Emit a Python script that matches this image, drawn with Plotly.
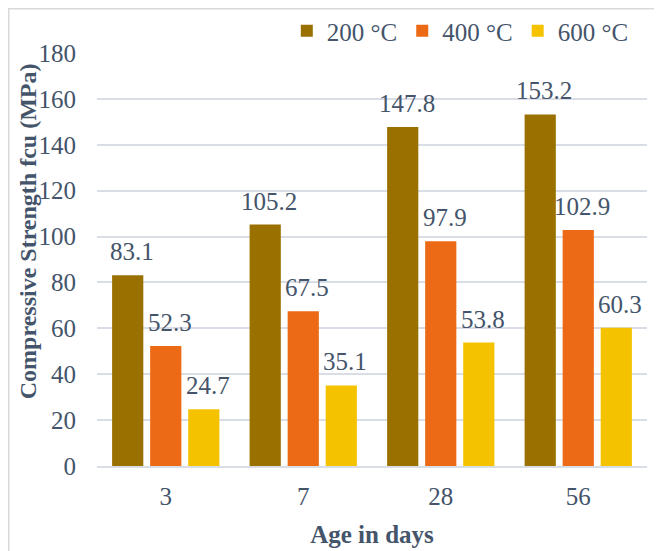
import plotly.graph_objects as go

categories = ["3", "7", "28", "56"]
series_names = ["200 °C", "400 °C", "600 °C"]
values_200 = [83.1, 105.2, 147.8, 153.2]
values_400 = [52.3, 67.5, 97.9, 102.9]
values_600 = [24.7, 35.1, 53.8, 60.3]
y_ticks = [0, 20, 40, 60, 80, 100, 120, 140, 160, 180]

colors = ["#9A7000", "#EC6A16", "#F5C200"]
series = [values_200, values_400, values_600]
offsets = [-38, 0, 38]

FONT = "Liberation Serif"
TXT = "#44546A"

fig = go.Figure()
for name, vals, c in zip(series_names, series, colors):
    fig.add_trace(go.Bar(
        x=categories, y=vals, name=name,
        marker=dict(color=c, line=dict(width=0)),
    ))

annotations = []
for vals, off in zip(series, offsets):
    for idx, v in enumerate(vals):
        annotations.append(dict(
            x=idx, y=v, xref="x", yref="y", text=f"{v:.1f}",
            showarrow=False, yanchor="bottom", yshift=8, xshift=off + 4,
            font=dict(family=FONT, size=25, color=TXT),
        ))

annotations.append(dict(
    x=-0.125, y=0.569, xref="paper", yref="paper",
    text="<b>Compressive Strength fcu (MPa)</b>", textangle=-90,
    showarrow=False, xanchor="center", yanchor="middle",
    font=dict(family=FONT, size=24, color=TXT),
))

fig.update_layout(
    width=662, height=551,
    margin=dict(l=89, r=23, t=45, b=93, autoexpand=False),
    paper_bgcolor="white", plot_bgcolor="white",
    barmode="group", bargap=0.17, bargroupgap=0.18,
    font=dict(family=FONT, size=25, color=TXT),
    showlegend=True,
    legend=dict(orientation="h", x=0.976, xanchor="right", y=1.053, yanchor="middle",
                font=dict(family=FONT, size=25, color=TXT),
                itemwidth=30, tracegroupgap=0, bgcolor="rgba(0,0,0,0)"),
    annotations=annotations,
    shapes=[dict(type="rect", xref="paper", yref="paper",
                 x0=(0.75 - 89) / 550, x1=1.2, y0=-0.4, y1=(458 - 0.75) / 413,
                 line=dict(color="#D9D9D9", width=1.5), layer="below")],
    xaxis=dict(
        type="category", range=[-0.5, 3.5], showgrid=False, showline=True,
        linecolor="#D9DEE6", linewidth=2,
        ticks="", ticklabelstandoff=7, tickfont=dict(family=FONT, size=25, color=TXT),
        title=dict(text="<b>Age in days</b>", standoff=16,
                   font=dict(family=FONT, size=25, color=TXT)),
    ),
    yaxis=dict(
        range=[0, 180], tickvals=y_ticks, showgrid=True, gridcolor="#D9DEE6", gridwidth=2,
        zeroline=False, showline=False, ticks="", ticklabelstandoff=20,
        tickfont=dict(family=FONT, size=25, color=TXT),
    ),
)

fig.write_html("out.html")
